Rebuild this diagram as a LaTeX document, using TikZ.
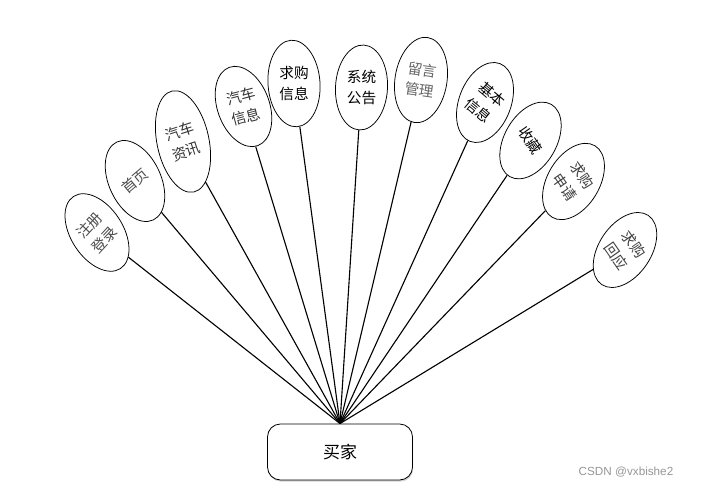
\documentclass[tikz,border=0pt]{standalone}
\usepackage{fontspec}
\setsansfont{Liberation Sans}
\newfontfamily\cjk{Noto Sans CJK SC}
\usepackage{tikz}
\usetikzlibrary{shapes.geometric, shadows}
\definecolor{MarkGray}{RGB}{150,150,150}

\begin{document}
\begin{tikzpicture}[x=0.03cm, y=0.03cm,
      oval/.style={ellipse, draw, line width=0.65pt, fill=white,
                   inner sep=0pt, minimum width=1.56cm},
      tag/.style={align=center, inner sep=1pt,
                  font=\cjk\fontsize{12.5}{18}\selectfont},
      link/.style={line width=0.95pt},
      buyerbox/.style={rectangle, rounded corners=11pt, draw, line width=0.7pt,
                       fill=white, minimum width=4.35cm, minimum height=1.68cm,
                       font=\cjk\fontsize{14.5}{16}\selectfont,
                       drop shadow={shadow xshift=0.6pt, shadow yshift=-1.4pt,
                                    opacity=0.35, fill=black!50}}
    ]
    \useasboundingbox (0,0) rectangle (703,488);

    %--- buyer ---
    \node[buyerbox] (buyer) at (340,36) {买家};

    %--- functions (fan) ---
    \foreach \i/\x/\y/\re/\rt/\h/\col/\lbl in {
        1/97/255.5/33/47/2.58/black!70/{注册\\登录},
        2/135/307/25/40/2.58/black!70/{首页},
        3/183/346.5/12/18/3.1/black!80/{汽车\\资讯},
        4/243.5/381.5/20/15/2.5/black!80/{汽车\\信息},
        5/294/404.5/4/0/2.6/black/{求购\\信息},
        6/361.5/400.5/-3/0/2.55/black/{系统\\公告},
        7/421/408/-9/-8/2.58/black!60/{留言\\管理},
        8/485/385.5/-21/-40/2.5/black/{基本\\信息},
        9/530.5/347.5/-30/-55/2.5/black/{收藏},
        10/573.5/306.5/-31/-55/2.5/black!75/{求购\\申请},
        11/625/238/-34/-55/2.5/black!75/{求购\\回应}} {
      \node[oval, minimum height=\h cm, rotate=\re] (e\i) at (\x,\y) {};
      \node[tag, text=\col, rotate=\rt] (t\i) at (e\i) {\lbl};
      \draw[link] (buyer.north) -- (e\i);
    }

    %--- watermark ---
    \node[font=\sffamily\fontsize{10}{12}\selectfont, text=MarkGray]
          (mark) at (626,16) {CSDN @vxbishe2};
  \end{tikzpicture}
\end{document}
